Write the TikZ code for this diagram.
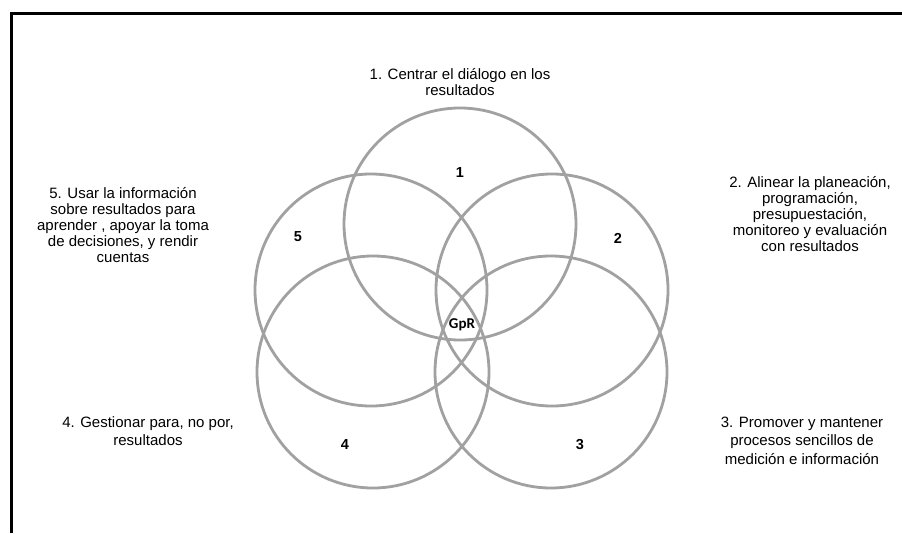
\documentclass[tikz,border=0pt]{standalone}
\usepackage{fontspec}
\setmainfont{Liberation Sans}
\newfontfamily\gprfont{Carlito}
\begin{document}
\begin{tikzpicture}[x=1pt,y=-1pt,
  ring/.style={draw=black!37, line width=2.8pt},
  caption/.style={align=center, font=\fontsize{15}{16}\selectfont, inner sep=0pt, text=black},
  digit/.style={font=\fontsize{14.5}{16}\selectfont\bfseries, inner sep=0pt},
  frame/.style={line width=3pt, black}]
  \useasboundingbox (0,0) rectangle (902,533);
  \fill[white] (0,0) rectangle (902,533);

  % open frame: left and top edges
  \coordinate (fb) at (11,533);
  \coordinate (fc) at (11,13);
  \coordinate (fr) at (902,13);
  \draw[frame] (fb) -- (fc) -- (fr);

  % five overlapping circles
  \node[ring, circle, minimum size=232pt, inner sep=0pt] (c1) at (460,224) {};
  \node[ring, circle, minimum size=232pt, inner sep=0pt] (c2) at (552,290) {};
  \node[ring, circle, minimum size=232pt, inner sep=0pt] (c3) at (551,372) {};
  \node[ring, circle, minimum size=232pt, inner sep=0pt] (c4) at (373,372) {};
  \node[ring, circle, minimum size=232pt, inner sep=0pt] (c5) at (371,290) {};

  % numbers inside the circles
  \node[digit] (n1) at (460,173) {1};
  \node[digit] (n2) at (618,238) {2};
  \node[digit] (n3) at (580,445) {3};
  \node[digit] (n4) at (345,445) {4};
  \node[digit] (n5) at (298,237) {5};
  \node[font=\gprfont\bfseries\fontsize{15}{16}\selectfont, inner sep=0pt] (gpr) at (462,325) {GpR};

  % principles
  \node[caption] (t1) at (460,82) {1. Centrar el diálogo en los\\resultados};
  \node[caption] (t2) at (810,214.5) {2. Alinear la planeación,\\programación,\\presupuestación,\\monitoreo y evaluación\\con  resultados};
  \node[caption, font=\fontsize{15}{18.5}\selectfont] (t3) at (802,440.5) {3. Promover y mantener\\procesos sencillos de\\medición e información};
  \node[caption, font=\fontsize{15}{18.5}\selectfont] (t4) at (148,431) {4. Gestionar para, no por,\\resultados};
  \node[caption] (t5) at (123,225) {5. Usar la información\\sobre resultados para\\aprender , apoyar la toma\\de decisiones, y rendir\\cuentas};
\end{tikzpicture}
\end{document}
